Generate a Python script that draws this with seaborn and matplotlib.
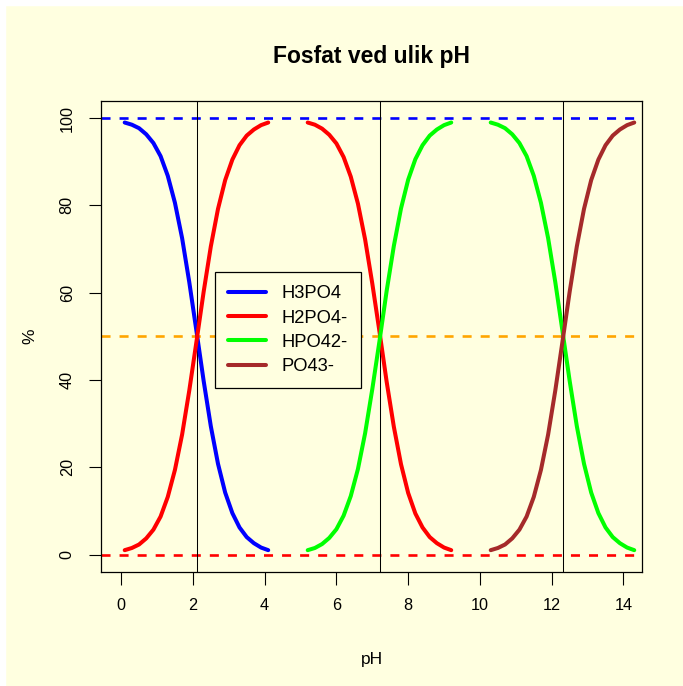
#Importing libraries
import matplotlib
matplotlib.use("Agg")
import matplotlib.pyplot as plt
import seaborn as sns
import numpy as np
from matplotlib.lines import Line2D
from matplotlib.patches import Rectangle

#pH values for the three transitions
ph_a = [0.1, 0.3, 0.5, 0.7, 0.9, 1.1, 1.3, 1.5, 1.7, 1.9, 2.1, 2.3, 2.5, 2.7, 2.9, 3.1, 3.3, 3.5, 3.7, 3.9, 4.1]
ph_b = [5.2, 5.4, 5.6, 5.8, 6.0, 6.2, 6.4, 6.6, 6.8, 7.0, 7.2, 7.4, 7.6, 7.8, 8.0, 8.2, 8.4, 8.6, 8.8, 9.0, 9.2]
ph_c = [10.3, 10.5, 10.7, 10.9, 11.1, 11.3, 11.5, 11.7, 11.9, 12.1, 12.3, 12.5, 12.7, 12.9, 13.1, 13.3, 13.5, 13.7, 13.9, 14.1, 14.3]

#Percent of each species
H3PO4 = [99.0, 98.5, 97.7, 96.3, 94.3, 91.3, 86.8, 80.6, 72.5, 62.4, 51.2, 39.8, 29.4, 20.8, 14.2, 9.5, 6.2, 4.0, 2.6, 1.6, 1.0]
H2PO4_up = [1.0, 1.5, 2.3, 3.7, 5.7, 8.7, 13.2, 19.4, 27.5, 37.6, 48.8, 60.2, 70.6, 79.2, 85.8, 90.5, 93.8, 96.0, 97.4, 98.4, 99.0]
H2PO4_down = [99.0, 98.5, 97.6, 96.2, 94.2, 91.1, 86.6, 80.4, 72.2, 62.1, 51.1, 39.6, 29.3, 20.7, 14.1, 9.4, 6.2, 4.0, 2.6, 1.6, 1.0]
HPO4_up = [1.0, 1.5, 2.4, 3.8, 5.8, 8.9, 13.4, 19.6, 27.8, 37.9, 48.9, 60.4, 70.7, 79.3, 85.9, 90.6, 93.8, 96.0, 97.4, 98.4, 99.0]
HPO4_down = [99.0, 98.5, 97.7, 96.3, 94.3, 91.3, 86.8, 80.6, 72.5, 62.4, 51.2, 39.8, 29.4, 20.8, 14.2, 9.5, 6.2, 4.0, 2.6, 1.6, 1.0]
PO4 = [1.0, 1.5, 2.3, 3.7, 5.7, 8.7, 13.2, 19.4, 27.5, 37.6, 48.8, 60.2, 70.6, 79.2, 85.8, 90.5, 93.8, 96.0, 97.4, 98.4, 99.0]

#pKa values and legend labels
pKa = [2.12, 7.21, 12.32]
labels = ["H3PO4", "H2PO4-", "HPO42-", "PO43-"]
colors = ["blue", "red", "lime", "brown"]
x_ticks = [0, 2, 4, 6, 8, 10, 12, 14]
y_ticks = [0, 20, 40, 60, 80, 100]

bg = "#FFFFE0"
sns.set_style("ticks")
plt.rcParams["font.family"] = ["Liberation Sans", "DejaVu Sans"]
plt.rcParams["lines.scale_dashes"] = False
plt.rcParams["text.color"] = "black"
plt.rcParams["axes.labelcolor"] = "black"

fig = plt.figure(figsize=(6.83, 6.86), dpi=100, facecolor=bg)
ax = fig.add_axes([0.1479, 0.1662, 0.7928, 0.6870])
ax.set_facecolor(bg)

#White strip on top and left edges
fig.add_artist(Rectangle((0, 0.993), 1, 0.007, transform=fig.transFigure, color="white", zorder=-5))
fig.add_artist(Rectangle((0, 0), 0.007, 1, transform=fig.transFigure, color="white", zorder=-5))

#Reference lines
ax.axhline(100, color="blue", lw=1.9, dashes=(6.5, 6.5), zorder=1)
ax.axhline(0, color="red", lw=1.9, dashes=(6.5, 6.5), zorder=1)
ax.axhline(50, color="orange", lw=1.9, dashes=(6.5, 6.5), zorder=1)
for p in pKa:
    ax.axvline(p, color="black", lw=0.75, zorder=1)

#Drawing the curves
lw = 2.9
sns.lineplot(x=ph_a, y=H3PO4, color=colors[0], lw=lw, ax=ax, zorder=3)
sns.lineplot(x=ph_a, y=H2PO4_up, color=colors[1], lw=lw, ax=ax, zorder=3)
sns.lineplot(x=ph_b, y=H2PO4_down, color=colors[1], lw=lw, ax=ax, zorder=3)
sns.lineplot(x=ph_b, y=HPO4_up, color=colors[2], lw=lw, ax=ax, zorder=3)
sns.lineplot(x=ph_c, y=HPO4_down, color=colors[2], lw=lw, ax=ax, zorder=3)
sns.lineplot(x=ph_c, y=PO4, color=colors[3], lw=lw, ax=ax, zorder=3)

ax.set_xlim(-0.56, 14.53)
ax.set_ylim(-4, 104)
ax.set_xticks(x_ticks)
ax.set_yticks(y_ticks)
ax.tick_params(labelsize=11.7, length=9, width=0.8, pad=10, colors="black")
for lab in ax.get_yticklabels():
    lab.set_rotation(90)
    lab.set_va("center")
for s in ax.spines.values():
    s.set_linewidth(0.9)
    s.set_color("black")

ax.set_xlabel("pH", fontsize=12.5, labelpad=28)
ax.set_ylabel("%", fontsize=12.5, labelpad=16)
ax.set_title("Fosfat ved ulik pH", fontsize=16.5, fontweight="bold", pad=27, color="black")

#Legend
handles = [Line2D([0], [0], color=c, lw=lw) for c in colors]
leg = ax.legend(handles, labels, loc="upper left", bbox_to_anchor=(215 / 683, 1 - 272 / 686),
                bbox_transform=fig.transFigure, fontsize=13.2, frameon=True, fancybox=False,
                edgecolor="black", facecolor=bg, framealpha=1, borderpad=0.72,
                handlelength=2.05, handletextpad=0.85, labelspacing=0.4, borderaxespad=0)
leg.get_frame().set_linewidth(0.9)
leg.set_zorder(5)

fig.savefig("out.png", dpi=100, facecolor=bg)
